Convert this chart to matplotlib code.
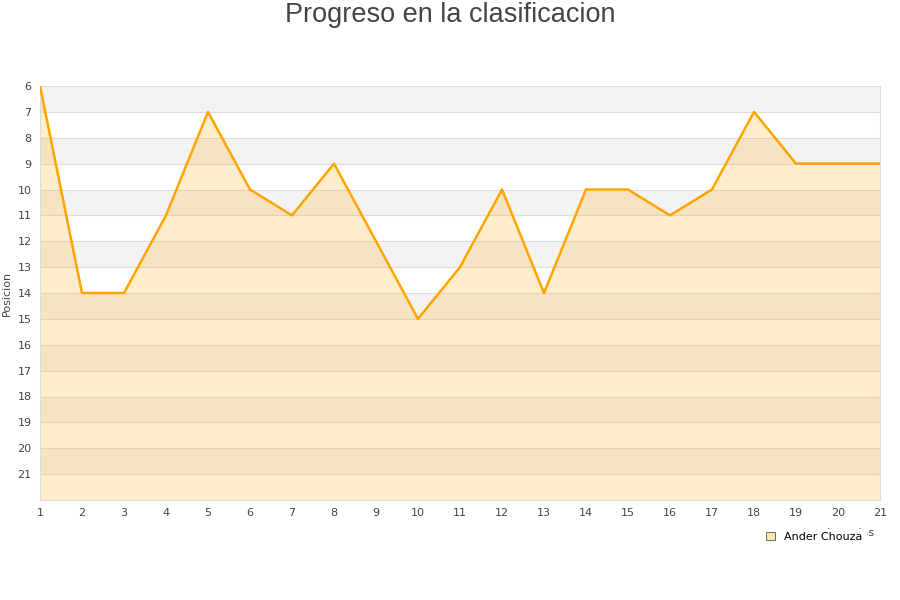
import matplotlib.pyplot as plt
from matplotlib.patches import Patch

jornadas = list(range(1, 22))
posicion = [6, 14, 14, 11, 7, 10, 11, 9, 12, 15, 13, 10, 14, 10, 10, 11, 10, 7, 9, 9, 9]
jugador = 'Ander Chouza'

fig = plt.figure(figsize=(9, 6), dpi=100)
ax = fig.add_axes([40 / 900, 100 / 600, 840 / 900, 414 / 600])

# bandas alternas
for y in range(6, 22, 2):
    ax.axhspan(y, y + 1, color='#f3f3f3', zorder=0, lw=0)
for y in range(7, 23):
    ax.axhline(y, color='#dddddd', lw=0.8, zorder=1)

ax.fill_between(jornadas, posicion, 22, color='#ffa500', alpha=0.2, lw=0, zorder=2)
ax.plot(jornadas, posicion, color='#ffa500', lw=1.8, zorder=3)

ax.set_xlim(1, 21)
ax.set_ylim(22, 6)
ax.set_xticks(jornadas)
ax.set_yticks(range(6, 22))
ax.tick_params(length=0, labelsize=8, colors='#444444', pad=6)
for s in ax.spines.values():
    s.set_color('#dddddd')

ax.set_ylabel('Posicion', fontsize=8, color='#444444', labelpad=4)
fig.text(0.5, 0.975, 'Progreso en la clasificacion', ha='center', va='center',
         fontsize=19.5, color='#444444', family='Liberation Sans')

# etiqueta del eje x, tapada casi por completo por la leyenda
fig.text(0.945, 0.112, 'Jornadas', ha='center', va='center', fontsize=8, color='#444444')
leg = fig.legend(handles=[Patch(facecolor='#ffe5b0', edgecolor='#555555', lw=0.6, label=jugador)],
                 loc='center', bbox_to_anchor=(0.905, 0.105), frameon=True, fontsize=8,
                 handlelength=0.8, handleheight=0.8, borderpad=0.3, handletextpad=0.8)
leg.get_frame().set_edgecolor('white')
leg.get_frame().set_facecolor('white')
leg.get_frame().set_alpha(1)

fig.savefig('out.png', dpi=100)
